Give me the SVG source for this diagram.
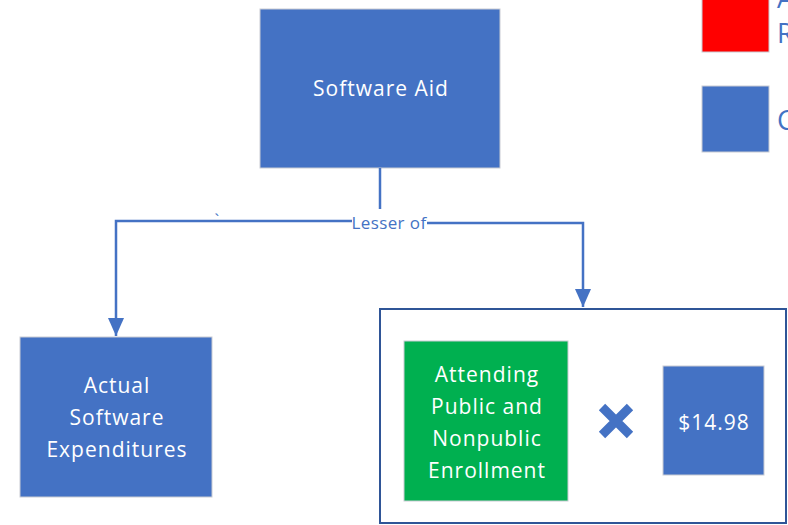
<svg xmlns="http://www.w3.org/2000/svg" width="788" height="525" viewBox="0 0 788 525">
<style>
.box{fill:#4472C4;stroke:#C9CCD3;stroke-width:1}
.green{fill:#00B050;stroke:#C9CCD3;stroke-width:1}
.lbl{font-family:"Open Sans","Liberation Sans",sans-serif;font-size:21px;letter-spacing:1px;fill:#FFFFFF;text-anchor:middle}
.conn{fill:none;stroke:#4472C4;stroke-width:2.5}
.ctext{font-family:"Open Sans","Liberation Sans",sans-serif;font-size:17px;letter-spacing:0.4px;fill:#4472C4}
.legt{font-family:"Open Sans","Liberation Sans",sans-serif;font-size:27px;fill:#4472C4}
</style>
<defs>
<marker id="arr" markerUnits="userSpaceOnUse" markerWidth="20" markerHeight="16" refX="18" refY="8" orient="auto">
<path d="M0,0 L18,8 L0,16 Z" fill="#4472C4"/>
</marker>
</defs>
<rect width="788" height="525" fill="#FFFFFF"/>

<g id="legend">
<rect x="702" y="-2" width="67" height="54" fill="#FF0000" stroke="#C9CCD3" stroke-width="1"/>
<rect x="702" y="86" width="67" height="66" class="box"/>
<text x="777" y="8" class="legt">A</text>
<text x="777" y="43" class="legt">R</text>
<text x="777" y="130" class="legt">C</text>
</g>

<g id="software-aid">
<rect x="260" y="9" width="240" height="159" class="box"/>
<text x="381" y="96" class="lbl">Software Aid</text>
</g>

<g id="connectors">
<path class="conn" d="M380,168 V209"/>
<path class="conn" d="M352,221 H116 V336" marker-end="url(#arr)"/>
<path class="conn" d="M427,223 H583 V307" marker-end="url(#arr)"/>
<text x="389" y="229" class="ctext" text-anchor="middle">Lesser of</text>
<text x="217" y="226" class="ctext" text-anchor="middle">`</text>
</g>

<g id="actual-expenditures">
<rect x="20" y="337" width="192" height="160" class="box"/>
<text x="117" y="393" class="lbl">Actual</text>
<text x="117" y="425" class="lbl">Software</text>
<text x="117" y="457" class="lbl">Expenditures</text>
</g>

<g id="formula-group">
<rect x="380" y="309" width="406" height="214" fill="none" stroke="#2F5597" stroke-width="2"/>
</g>

<g id="enrollment">
<rect x="404" y="341" width="164" height="160" class="green"/>
<text x="487" y="382" class="lbl">Attending</text>
<text x="487" y="414" class="lbl">Public and</text>
<text x="487" y="446" class="lbl">Nonpublic</text>
<text x="487" y="478" class="lbl">Enrollment</text>
</g>

<g id="times">
<path d="M602,407 L630,435 M630,407 L602,435" stroke="#4472C4" stroke-width="9" fill="none"/>
</g>

<g id="rate">
<rect x="663" y="366" width="101" height="109" class="box"/>
<text x="714" y="430" class="lbl">$14.98</text>
</g>
</svg>
